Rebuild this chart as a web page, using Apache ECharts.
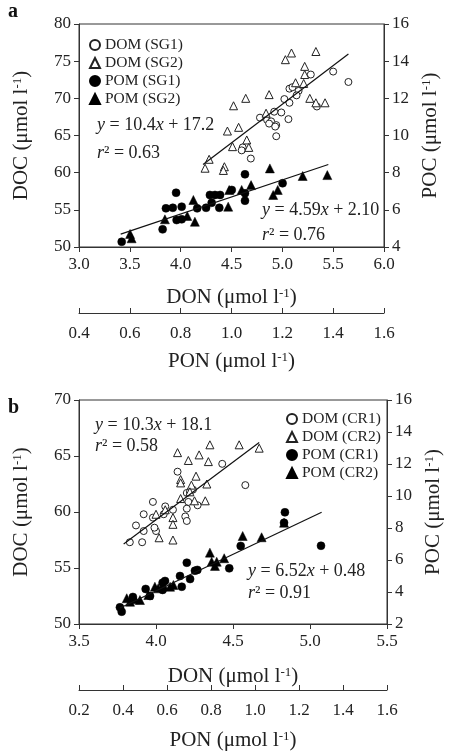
<!DOCTYPE html>
<html>
<head>
<meta charset="utf-8">
<script src="https://cdn.jsdelivr.net/npm/echarts@6/dist/echarts.min.js"></script>
<style>
html,body{margin:0;padding:0;background:#fff;}
#chart{width:452px;height:754px;}
</style>
</head>
<body>
<div id="chart"></div>
<script>
// panel a : DOM = [DON, DOC], POM = [PON, POC]
var domSG1 = [[5.28,73.2],[5.50,73.6],[5.65,72.2],[5.07,71.3],[5.16,71.0],[5.10,71.5],[5.14,70.4],[5.02,69.9],[5.07,69.4],[5.34,68.9],[4.92,68.2],[4.99,68.1],[4.78,67.4],[4.85,67.1],[4.89,66.9],[4.94,66.4],[4.87,66.6],[4.93,66.2],[5.06,67.2],[4.94,64.9],[4.61,63.4],[4.69,61.9],[4.60,63.0]];
var domSG2 = [[5.09,76.1],[5.03,75.2],[5.33,76.3],[5.22,74.3],[5.22,73.2],[5.13,72.1],[5.21,72.0],[4.87,70.5],[4.64,70.0],[4.52,69.0],[5.27,70.0],[5.33,69.4],[5.42,69.4],[4.84,68.0],[4.46,65.6],[4.57,66.1],[4.65,64.4],[4.51,63.5],[4.67,63.4],[4.28,61.8],[4.24,60.6],[4.43,60.8],[4.42,60.3]];
var pomSG1 = [[0.568,4.28],[0.729,4.95],[0.782,6.92],[0.742,6.08],[0.769,6.11],[0.804,6.17],[0.784,5.45],[0.804,5.49],[0.865,6.08],[0.900,6.11],[0.922,6.38],[0.915,6.80],[0.935,6.80],[0.955,6.80],[0.952,6.11],[1.053,7.91],[1.053,6.89],[1.053,6.49],[1.201,7.43],[1.001,7.07]];
var pomSG2 = [[0.601,4.70],[0.607,4.47],[0.738,5.49],[0.850,6.53],[0.856,5.36],[0.826,5.67],[0.987,6.17],[0.991,7.07],[1.040,7.07],[1.077,7.33],[1.151,8.23],[1.164,6.80],[1.182,7.07],[1.280,7.82],[1.377,7.87]];
var fitDomA = [[4.22,61.1],[5.65,75.96]];   // y = 10.4x + 17.2
var fitPomA = [[0.564,4.69],[1.381,8.44]];  // y = 4.59x + 2.10

// panel b
var domCR1 = [[4.43,64.3],[4.14,63.6],[4.58,62.4],[4.20,61.7],[4.22,61.8],[4.24,62.0],[3.98,60.9],[4.06,60.5],[4.21,60.9],[4.27,60.6],[4.20,60.3],[3.92,59.8],[4.05,59.8],[3.98,59.5],[4.11,60.2],[4.19,59.6],[4.20,59.2],[3.87,58.8],[3.92,58.3],[4.00,58.3],[3.99,58.6],[3.83,57.3],[3.91,57.3]];
var domCR2 = [[4.14,65.3],[4.21,64.6],[4.28,65.1],[4.35,66.0],[4.34,64.5],[4.54,66.0],[4.67,65.7],[4.16,62.9],[4.26,63.2],[4.16,62.6],[4.23,62.4],[4.22,61.8],[4.33,62.5],[4.16,61.2],[4.25,61.0],[4.32,61.0],[4.06,60.2],[4.00,59.8],[4.11,59.5],[4.02,57.7],[4.11,57.5],[4.11,58.9]];
var pomCR1 = [[0.386,3.04],[0.394,2.77],[0.503,4.19],[0.580,4.58],[0.591,4.69],[0.659,5.0],[0.690,5.83],[0.705,4.81],[0.727,5.33],[0.738,5.38],[0.667,4.33],[0.883,5.48],[0.935,6.88],[1.136,8.98],[1.132,8.33],[1.30,6.89],[0.580,4.13],[0.445,3.69],[0.523,3.75]];
var pomCR2 = [[0.417,3.61],[0.432,3.39],[0.455,3.54],[0.477,3.5],[0.515,3.81],[0.545,4.33],[0.560,4.23],[0.583,4.44],[0.614,4.33],[0.629,4.44],[0.795,6.46],[0.803,5.89],[0.818,5.63],[0.826,5.89],[0.860,6.11],[0.944,7.5],[1.030,7.42],[1.132,8.33]];
var fitDomB = [[3.79,57.14],[4.67,66.2]];   // y = 10.3x + 18.1
var fitPomB = [[0.386,3.0],[1.303,8.98]];   // y = 6.52x + 0.48

var namesA = ['DOM (SG1)','DOM (SG2)','POM (SG1)','POM (SG2)'];
var namesB = ['DOM (CR1)','DOM (CR2)','POM (CR1)','POM (CR2)'];

var FONT = '"Liberation Serif", "DejaVu Serif", serif';
var INK = '#222';
var sup = {s: {fontSize: 13, fontFamily: FONT, color: INK, verticalAlign: 'top', lineHeight: 13}};

function xAx(grid, min, max, step, offset, gap, inside) {
	return {
		type: 'value', gridIndex: grid, position: 'bottom', offset: offset,
		min: min, max: max, interval: step,
		name: (offset ? 'PON' : 'DON') + ' (μmol l{s|-1})',
		nameLocation: 'middle', nameGap: gap,
		nameTextStyle: {fontFamily: FONT, fontSize: 21, color: INK, rich: sup},
		axisLine: {show: true, lineStyle: {color: '#333'}},
		axisTick: {show: true, inside: inside, length: 5, lineStyle: {color: '#333'}},
		axisLabel: {fontFamily: FONT, fontSize: 17, color: INK, margin: inside ? 12 : 9,
			formatter: function (v) { return v.toFixed(1); }},
		splitLine: {show: false}
	};
}
function yAx(grid, min, max, step, pos, label) {
	return {
		type: 'value', gridIndex: grid, position: pos,
		min: min, max: max, interval: step,
		name: label + ' (μmol l{s|-1})', nameLocation: 'middle', nameRotate: 90,
		nameGap: pos == 'left' ? 47 : 34,
		nameTextStyle: {fontFamily: FONT, fontSize: 21, color: INK, rich: sup},
		axisLine: {show: true, lineStyle: {color: '#333'}},
		axisTick: {show: true, length: 5, lineStyle: {color: '#333'}},
		axisLabel: {fontFamily: FONT, fontSize: 17, color: INK, margin: 8},
		splitLine: {show: false}
	};
}
function pts(name, data, xi, yi, sym, filled, size) {
	return {
		name: name, type: 'scatter', xAxisIndex: xi, yAxisIndex: yi,
		symbol: sym, symbolSize: size, data: data,
		itemStyle: filled ? {color: '#000', borderColor: '#000', borderWidth: 0.5, opacity: 1}
			: {color: '#fff', borderColor: '#222', borderWidth: 1, opacity: 1},
		emphasis: {disabled: true}, z: filled ? 3 : 2
	};
}
function fit(data, xi, yi) {
	return {
		type: 'line', xAxisIndex: xi, yAxisIndex: yi, data: data, symbol: 'none',
		lineStyle: {color: '#111', width: 1.2}, z: 4, silent: true
	};
}
function eq(left, top, txt) {
	return {
		type: 'text', left: left, top: top,
		style: {text: txt, fontFamily: FONT, fontSize: 18, fill: INK,
			rich: {i: {fontStyle: 'italic', fontFamily: FONT, fontSize: 18, color: INK}}}
	};
}
function legend(names, left, top) {
	return {
		data: names, orient: 'vertical', left: left, top: top,
		itemWidth: 10, itemHeight: 10, itemGap: 2, selectedMode: false,
		textStyle: {fontFamily: FONT, fontSize: 15.5, color: INK, lineHeight: 16}
	};
}

var chart = echarts.init(document.getElementById('chart'), null, {renderer: 'canvas'});
chart.setOption({
	animation: false,
	backgroundColor: '#fff',
	grid: [
		{left: 79, top: 24, width: 305, height: 223, show: true, borderColor: '#333', borderWidth: 1},
		{left: 79, top: 400, width: 308, height: 224, show: true, borderColor: '#333', borderWidth: 1}
	],
	xAxis: [
		xAx(0, 3, 6, 0.5, 0, 40, false),
		xAx(0, 0.4, 1.6, 0.2, 66, 38, true),
		xAx(1, 3.5, 5.5, 0.5, 0, 42, false),
		xAx(1, 0.2, 1.6, 0.2, 66, 40, true)
	],
	yAxis: [
		yAx(0, 50, 80, 5, 'left', 'DOC'),
		yAx(0, 4, 16, 2, 'right', 'POC'),
		yAx(1, 50, 70, 5, 'left', 'DOC'),
		yAx(1, 2, 16, 2, 'right', 'POC')
	],
	legend: [legend(namesA, 84, 32), legend(namesB, 281, 406)],
	series: [
		pts(namesA[0], domSG1, 0, 0, 'circle', false, 7),
		pts(namesA[1], domSG2, 0, 0, 'triangle', false, 8),
		pts(namesA[2], pomSG1, 1, 1, 'circle', true, 8),
		pts(namesA[3], pomSG2, 1, 1, 'triangle', true, 9),
		fit(fitDomA, 0, 0),
		fit(fitPomA, 1, 1),
		pts(namesB[0], domCR1, 2, 2, 'circle', false, 7),
		pts(namesB[1], domCR2, 2, 2, 'triangle', false, 8),
		pts(namesB[2], pomCR1, 3, 3, 'circle', true, 8),
		pts(namesB[3], pomCR2, 3, 3, 'triangle', true, 9),
		fit(fitDomB, 2, 2),
		fit(fitPomB, 3, 3)
	],
	graphic: [
		{type: 'text', left: 8, top: 2, style: {text: 'a', fontFamily: FONT, fontSize: 20, fontWeight: 'bold', fill: '#111'}},
		{type: 'text', left: 8, top: 398, style: {text: 'b', fontFamily: FONT, fontSize: 20, fontWeight: 'bold', fill: '#111'}},
		eq(97, 116, '{i|y} = 10.4{i|x} + 17.2'),
		eq(97, 144, '{i|r}² = 0.63'),
		eq(262, 201, '{i|y} = 4.59{i|x} + 2.10'),
		eq(262, 226, '{i|r}² = 0.76'),
		eq(95, 416, '{i|y} = 10.3{i|x} + 18.1'),
		eq(95, 437, '{i|r}² = 0.58'),
		eq(248, 562, '{i|y} = 6.52{i|x} + 0.48'),
		eq(248, 584, '{i|r}² = 0.91')
	]
});
</script>
</body>
</html>
